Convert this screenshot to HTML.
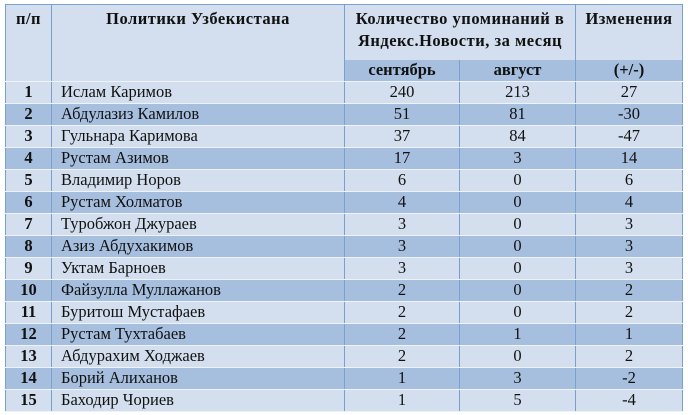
<!DOCTYPE html>
<html><head><meta charset="utf-8"><style>
body{margin:0;width:688px;height:415px;background:#fff;overflow:hidden;font-family:"Liberation Serif",serif;}
table{position:absolute;left:5px;top:4px;border-collapse:collapse;table-layout:fixed;width:677px;border:1px solid #7ba0cd;}
td{padding:0;font-size:16.5px;color:#111;border-left:1px solid #7ba0cd;border-right:1px solid #7ba0cd;border-bottom:1px solid #eef3fa;text-align:center;white-space:nowrap;overflow:hidden;line-height:18px;}
tr.h td{background:#d3dfee;font-weight:bold;vertical-align:top;height:55px;border-bottom:none;line-height:22px;padding-top:3px;box-sizing:border-box;font-size:16.5px;letter-spacing:0.5px;}
tr.s td{background:#a7bfde;font-weight:bold;height:21px;}
tr.l td{background:#d3dfee;height:21px;}
tr.d td{background:#a7bfde;height:21px;}
td.n{text-align:left;padding-left:9px;}
td.b{font-weight:bold;}
</style></head><body>
<table>
<colgroup><col style="width:46px"><col style="width:293px"><col style="width:115px"><col style="width:116px"><col style="width:107px"></colgroup>
<tr class="h"><td>п/п</td><td>Политики Узбекистана</td><td colspan="2">Количество упоминаний в<br>Яндекс.Новости, за месяц</td><td>Изменения</td></tr>
<tr class="s"><td style="background:#d3dfee"></td><td style="background:#d3dfee"></td><td>сентябрь</td><td>август</td><td>(+/-)</td></tr>
<tr class="l"><td class="b">1</td><td class="n">Ислам Каримов</td><td>240</td><td>213</td><td>27</td></tr>
<tr class="d"><td class="b">2</td><td class="n">Абдулазиз Камилов</td><td>51</td><td>81</td><td>-30</td></tr>
<tr class="l"><td class="b">3</td><td class="n">Гульнара Каримова</td><td>37</td><td>84</td><td>-47</td></tr>
<tr class="d"><td class="b">4</td><td class="n">Рустам Азимов</td><td>17</td><td>3</td><td>14</td></tr>
<tr class="l"><td class="b">5</td><td class="n">Владимир Норов</td><td>6</td><td>0</td><td>6</td></tr>
<tr class="d"><td class="b">6</td><td class="n">Рустам Холматов</td><td>4</td><td>0</td><td>4</td></tr>
<tr class="l"><td class="b">7</td><td class="n">Туробжон Джураев</td><td>3</td><td>0</td><td>3</td></tr>
<tr class="d"><td class="b">8</td><td class="n">Азиз Абдухакимов</td><td>3</td><td>0</td><td>3</td></tr>
<tr class="l"><td class="b">9</td><td class="n">Уктам Барноев</td><td>3</td><td>0</td><td>3</td></tr>
<tr class="d"><td class="b">10</td><td class="n">Файзулла Муллажанов</td><td>2</td><td>0</td><td>2</td></tr>
<tr class="l"><td class="b">11</td><td class="n">Буритош Мустафаев</td><td>2</td><td>0</td><td>2</td></tr>
<tr class="d"><td class="b">12</td><td class="n">Рустам Тухтабаев</td><td>2</td><td>1</td><td>1</td></tr>
<tr class="l"><td class="b">13</td><td class="n">Абдурахим Ходжаев</td><td>2</td><td>0</td><td>2</td></tr>
<tr class="d"><td class="b">14</td><td class="n">Борий Алиханов</td><td>1</td><td>3</td><td>-2</td></tr>
<tr class="l"><td class="b">15</td><td class="n">Баходир Чориев</td><td>1</td><td>5</td><td>-4</td></tr>
</table>
</body></html>
